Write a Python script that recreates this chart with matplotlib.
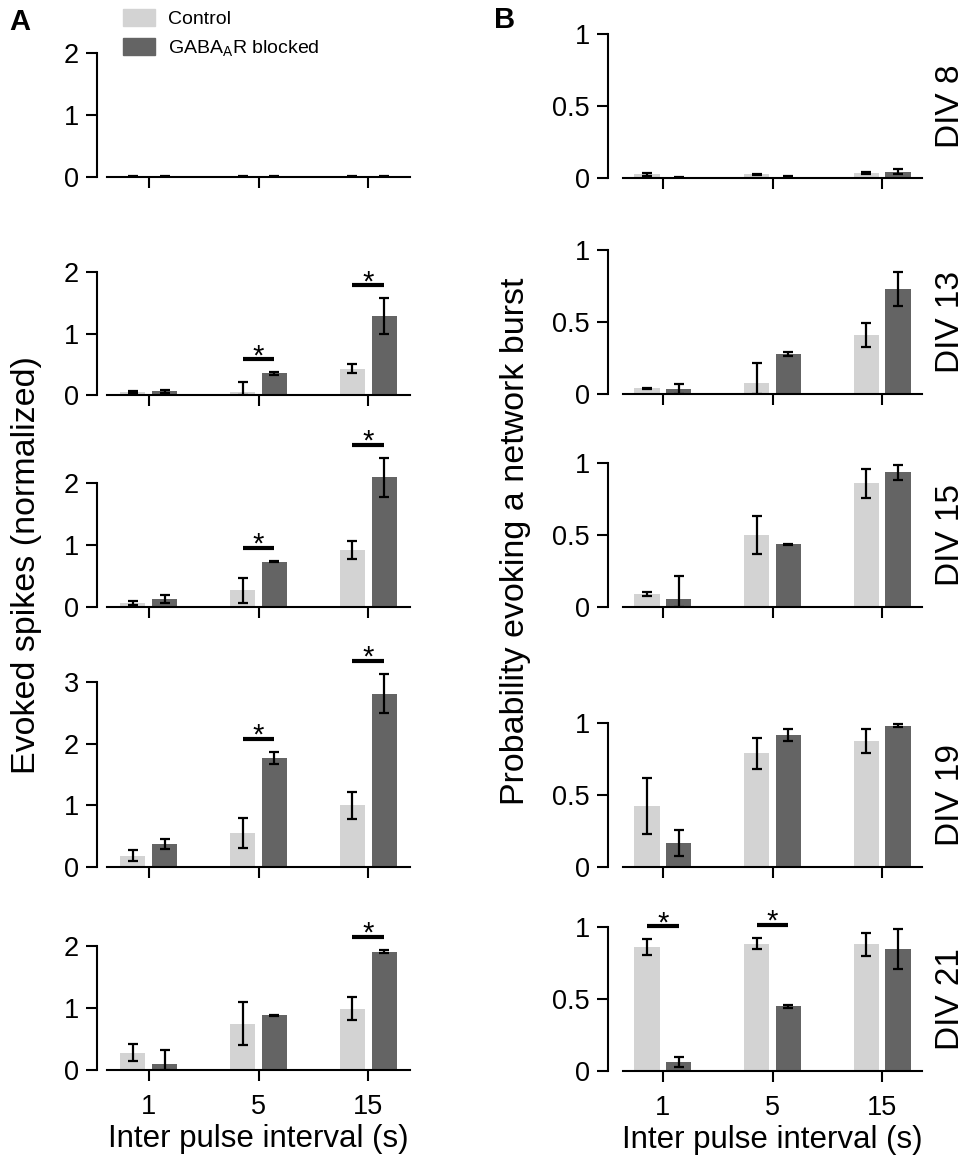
import numpy as np
import matplotlib.pyplot as plt

plt.rcParams['font.family'] = ['Liberation Sans', 'DejaVu Sans']
plt.rcParams['mathtext.fontset'] = 'custom'
plt.rcParams['mathtext.rm'] = 'Liberation Sans'

W, H = 970, 1165

intervals = ['1', '5', '15']
div_labels = ['DIV 8', 'DIV 13', 'DIV 15', 'DIV 19', 'DIV 21']

# A: evoked spikes (normalized); rows DIV 8..21, columns 1, 5, 15 s
spikes_ctrl = [[0.01, 0.01, 0.01],
               [0.05, 0.05, 0.43],
               [0.07, 0.27, 0.92],
               [0.18, 0.55, 1.00],
               [0.28, 0.75, 0.99]]
spikes_ctrl_err = [[0.005, 0.005, 0.005],
                   [0.01, 0.16, 0.08],
                   [0.03, 0.20, 0.14],
                   [0.09, 0.24, 0.22],
                   [0.14, 0.35, 0.19]]
spikes_gaba = [[0.01, 0.01, 0.01],
               [0.06, 0.35, 1.28],
               [0.13, 0.73, 2.09],
               [0.37, 1.77, 2.81],
               [0.10, 0.88, 1.91]]
spikes_gaba_err = [[0.005, 0.005, 0.005],
                   [0.02, 0.02, 0.29],
                   [0.065, 0.01, 0.32],
                   [0.08, 0.10, 0.32],
                   [0.23, 0.01, 0.03]]
spikes_sig = [[], [1, 2], [1, 2], [1, 2], [2]]
spikes_ymax = [2, 2, 2, 3, 2]

# B: probability of evoking a network burst
burst_ctrl = [[0.025, 0.025, 0.035],
              [0.04, 0.075, 0.41],
              [0.088, 0.50, 0.86],
              [0.425, 0.79, 0.875],
              [0.86, 0.885, 0.88]]
burst_ctrl_err = [[0.012, 0.004, 0.005],
                  [0.003, 0.14, 0.085],
                  [0.014, 0.13, 0.10],
                  [0.195, 0.108, 0.08],
                  [0.055, 0.04, 0.08]]
burst_gaba = [[0.005, 0.01, 0.045],
              [0.033, 0.28, 0.73],
              [0.055, 0.435, 0.935],
              [0.167, 0.915, 0.98],
              [0.065, 0.45, 0.845]]
burst_gaba_err = [[0.003, 0.003, 0.015],
                  [0.035, 0.015, 0.117],
                  [0.16, 0.005, 0.05],
                  [0.09, 0.04, 0.01],
                  [0.035, 0.01, 0.14]]
burst_sig = [[], [], [], [], [0, 1]]

ctrl_color = '#d3d3d3'
gaba_color = '#646464'

# pixel layout: zero line and top tick of each row
a_zero = [177, 395, 607, 867, 1070]
a_top = [53, 272, 483, 682, 946]
b_zero = [178, 394, 607, 867, 1071]
b_top = [34, 250, 463, 723, 927]

fig = plt.figure(figsize=(W / 100, H / 100), dpi=100)


def make_axes(left, right, zero, top, ymax, xlim, offset):
    ppu = (zero - top) / ymax
    extra = 30
    ax = fig.add_axes([left / W, 1 - zero / H, (right - left) / W, (zero - top + extra) / H])
    ax.set_facecolor('none')
    ax.set_xlim(*xlim)
    ax.set_ylim(0, ymax + extra / ppu)
    for s in ['top', 'right']:
        ax.spines[s].set_visible(False)
    ax.spines['left'].set_bounds(0, ymax)
    ax.spines['left'].set_position(('outward', offset))
    ax.spines['left'].set_linewidth(1.5)
    ax.spines['bottom'].set_linewidth(1.5)
    ax.tick_params(length=8, width=1.5, labelsize=19.5, direction='out')
    ax.tick_params(axis='x', pad=9)
    ax.tick_params(axis='y', pad=5)
    ax.set_xticks(range(3))
    return ax, ppu


def draw_bars(ax, ppu, ctrl, ctrl_err, gaba, gaba_err, sig):
    x = np.arange(3)
    for vals, errs, off, col in [(ctrl, ctrl_err, -0.145, ctrl_color),
                                 (gaba, gaba_err, 0.145, gaba_color)]:
        vals = np.array(vals)
        errs = np.array(errs)
        ax.bar(x + off, vals, 0.23, color=col, zorder=1)
        lower = np.minimum(errs, vals)
        ax.errorbar(x + off, vals, yerr=[lower, errs], fmt='none', ecolor='black',
                    elinewidth=1.6, capsize=3.6, capthick=1.6, zorder=2)
    for i in sig:
        y = max(ctrl[i] + ctrl_err[i], gaba[i] + gaba_err[i]) + 13 / ppu
        ax.plot([i - 0.145, i + 0.145], [y, y], color='black', lw=3,
                solid_capstyle='butt', clip_on=False)
        ax.annotate('*', xy=(i, y), xytext=(0, -3.5), textcoords='offset points',
                    ha='center', va='baseline', fontsize=21, annotation_clip=False)


for r in range(5):
    ax, ppu = make_axes(107, 410, a_zero[r], a_top[r], spikes_ymax[r], (-0.38, 2.38), 7.2)
    draw_bars(ax, ppu, spikes_ctrl[r], spikes_ctrl_err[r], spikes_gaba[r],
              spikes_gaba_err[r], spikes_sig[r])
    ax.set_yticks(range(spikes_ymax[r] + 1))
    if r == 4:
        ax.set_xticklabels(intervals)
        ax.set_xlabel('Inter pulse interval (s)', fontsize=22.5, labelpad=3)
    else:
        ax.set_xticklabels([])

    ax, ppu = make_axes(623, 922, b_zero[r], b_top[r], 1, (-0.364, 2.364), 10.8)
    draw_bars(ax, ppu, burst_ctrl[r], burst_ctrl_err[r], burst_gaba[r],
              burst_gaba_err[r], burst_sig[r])
    ax.set_yticks([0, 0.5, 1])
    ax.set_yticklabels(['0', '0.5', '1'])
    if r == 4:
        ax.set_xticklabels(intervals)
        ax.set_xlabel('Inter pulse interval (s)', fontsize=22.5, labelpad=3)
    else:
        ax.set_xticklabels([])
    ax.text(951 / W, 1 - (b_zero[r] + b_top[r]) / 2 / H, div_labels[r], transform=fig.transFigure,
            rotation=90, ha='center', va='center', fontsize=24)

fig.text(27 / W, 1 - 565 / H, 'Evoked spikes (normalized)', rotation=90,
         ha='center', va='center', fontsize=24.5)
fig.text(516 / W, 1 - 541 / H, 'Probability evoking a network burst', rotation=90,
         ha='center', va='center', fontsize=24.5)
fig.text(20 / W, 1 - 22 / H, 'A', fontsize=21, fontweight='bold', ha='center', va='center')
fig.text(505 / W, 1 - 20 / H, 'B', fontsize=21, fontweight='bold', ha='center', va='center')

handles = [plt.Rectangle((0, 0), 1, 1, color=ctrl_color),
           plt.Rectangle((0, 0), 1, 1, color=gaba_color)]
fig.legend(handles, ['Control', r'GABA$_\mathregular{A}$R blocked'], loc='upper left',
           bbox_to_anchor=(123 / W, 1 - 9 / H), frameon=False, fontsize=14,
           handlelength=1.65, handleheight=1.0, handletextpad=0.65,
           labelspacing=0.5, borderpad=0, borderaxespad=0)

fig.savefig('out.png', dpi=100)
